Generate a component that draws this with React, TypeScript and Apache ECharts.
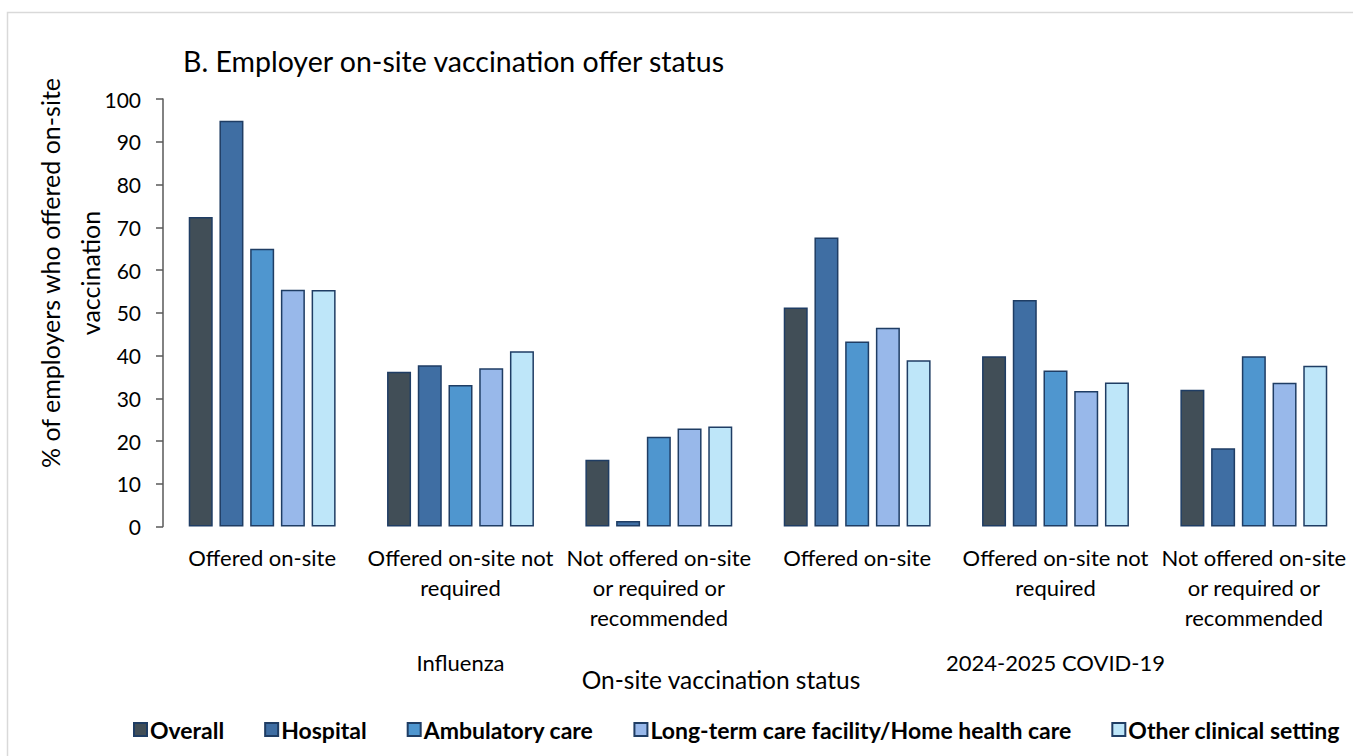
import React, { useEffect, useRef } from "react";
import * as echarts from "echarts";

const categories = [
  "Offered on-site",
  "Offered on-site not\nrequired",
  "Not offered on-site\nor required or\nrecommended",
  "Offered on-site",
  "Offered on-site not\nrequired",
  "Not offered on-site\nor required or\nrecommended",
];
const groups = ["Influenza", "2024-2025 COVID-19"];
const yTicks = [0, 10, 20, 30, 40, 50, 60, 70, 80, 90, 100];

const seriesNames = [
  "Overall",
  "Hospital",
  "Ambulatory care",
  "Long-term care facility/Home health care",
  "Other clinical setting",
];
const overall = [72.4, 36.2, 15.6, 51.2, 39.8, 32.0];
const hospital = [94.9, 37.7, 1.3, 67.6, 53.0, 18.3];
const ambulatory = [65.0, 33.1, 21.0, 43.3, 36.5, 39.8];
const longTermCare = [55.4, 37.0, 22.9, 46.5, 31.7, 33.6];
const otherClinical = [55.3, 41.0, 23.4, 38.9, 33.7, 37.6];

const seriesValues = [overall, hospital, ambulatory, longTermCare, otherClinical];
const colors = ["#414E57", "#3F6EA3", "#4F96CF", "#98B8EA", "#BEE6F9"];

const FONT = "Lato";

export default function App() {
  const ref = useRef<HTMLDivElement>(null);
  useEffect(() => {
    document.body.style.margin = "0";
    const chart = echarts.init(ref.current!, undefined, { renderer: "svg" });
    const option: any = {
      animation: false,
      backgroundColor: "#ffffff",
      textStyle: { fontFamily: FONT },
      title: {
        text: "B. Employer on-site vaccination offer status",
        left: 178,
        top: 41,
        textStyle: { fontFamily: FONT, fontSize: 28.5, fontWeight: "normal", color: "#000" },
      },
      graphic: [
        {
          type: "rect",
          left: 5,
          top: 10,
          shape: { x: 0, y: 0, width: 1365, height: 760 },
          style: { fill: "none", stroke: "#D9D9D9", lineWidth: 1.5 },
          silent: true,
          z: -10,
        },
        {
          type: "text",
          x: 70,
          y: 273,
          rotation: Math.PI / 2,
          style: {
            text: "% of employers who offered on-site\nvaccination",
            fontFamily: FONT,
            fontSize: 25,
            lineHeight: 40,
            fill: "#000",
            align: "center",
            verticalAlign: "middle",
          },
        },
        {
          type: "text",
          x: 721,
          y: 679,
          style: {
            text: "On-site vaccination status",
            fontFamily: FONT,
            fontSize: 24.5,
            fill: "#000",
            align: "center",
            verticalAlign: "middle",
          },
        },
      ],
      legend: {
        data: seriesNames,
        left: 128,
        top: 713,
        itemWidth: 13,
        itemHeight: 13,
        itemGap: 40,
        icon: "rect",
        textStyle: { fontFamily: FONT, fontSize: 23, fontWeight: "bold", color: "#000", padding: [0, 0, 0, -2] },
      },
      grid: { left: 163, top: 99, width: 1195, height: 427.5 },
      xAxis: [
        {
          type: "category",
          data: categories,
          axisLine: { show: false },
          axisTick: { show: false },
          axisLabel: {
            interval: 0,
            margin: 16,
            fontFamily: FONT,
            fontSize: 22,
            lineHeight: 30,
            color: "#000",
            align: "center",
          },
        },
        {
          type: "category",
          data: groups,
          position: "bottom",
          axisLine: { show: false },
          axisTick: { show: false },
          axisLabel: {
            interval: 0,
            margin: 121,
            fontFamily: FONT,
            fontSize: 22,
            lineHeight: 30,
            color: "#000",
          },
        },
      ],
      yAxis: {
        type: "value",
        min: yTicks[0],
        max: yTicks[yTicks.length - 1],
        interval: 10,
        splitLine: { show: false },
        axisLine: { show: true, lineStyle: { color: "#595959", width: 1.5 } },
        axisTick: { show: true, length: 7, lineStyle: { color: "#595959", width: 1.5 } },
        axisLabel: { margin: 22, fontFamily: FONT, fontSize: 21, color: "#000" },
      },
      series: seriesNames.map((name, i) => ({
        name,
        type: "bar",
        xAxisIndex: 0,
        data: seriesValues[i],
        barWidth: 24,
        barGap: "28%",
        itemStyle: { color: colors[i], borderColor: "#1F3D64", borderWidth: 1.5 },
      })),
    };
    chart.setOption(option);
    return () => chart.dispose();
  }, []);
  return <div ref={ref} style={{ width: 1353, height: 756 }} />;
}
